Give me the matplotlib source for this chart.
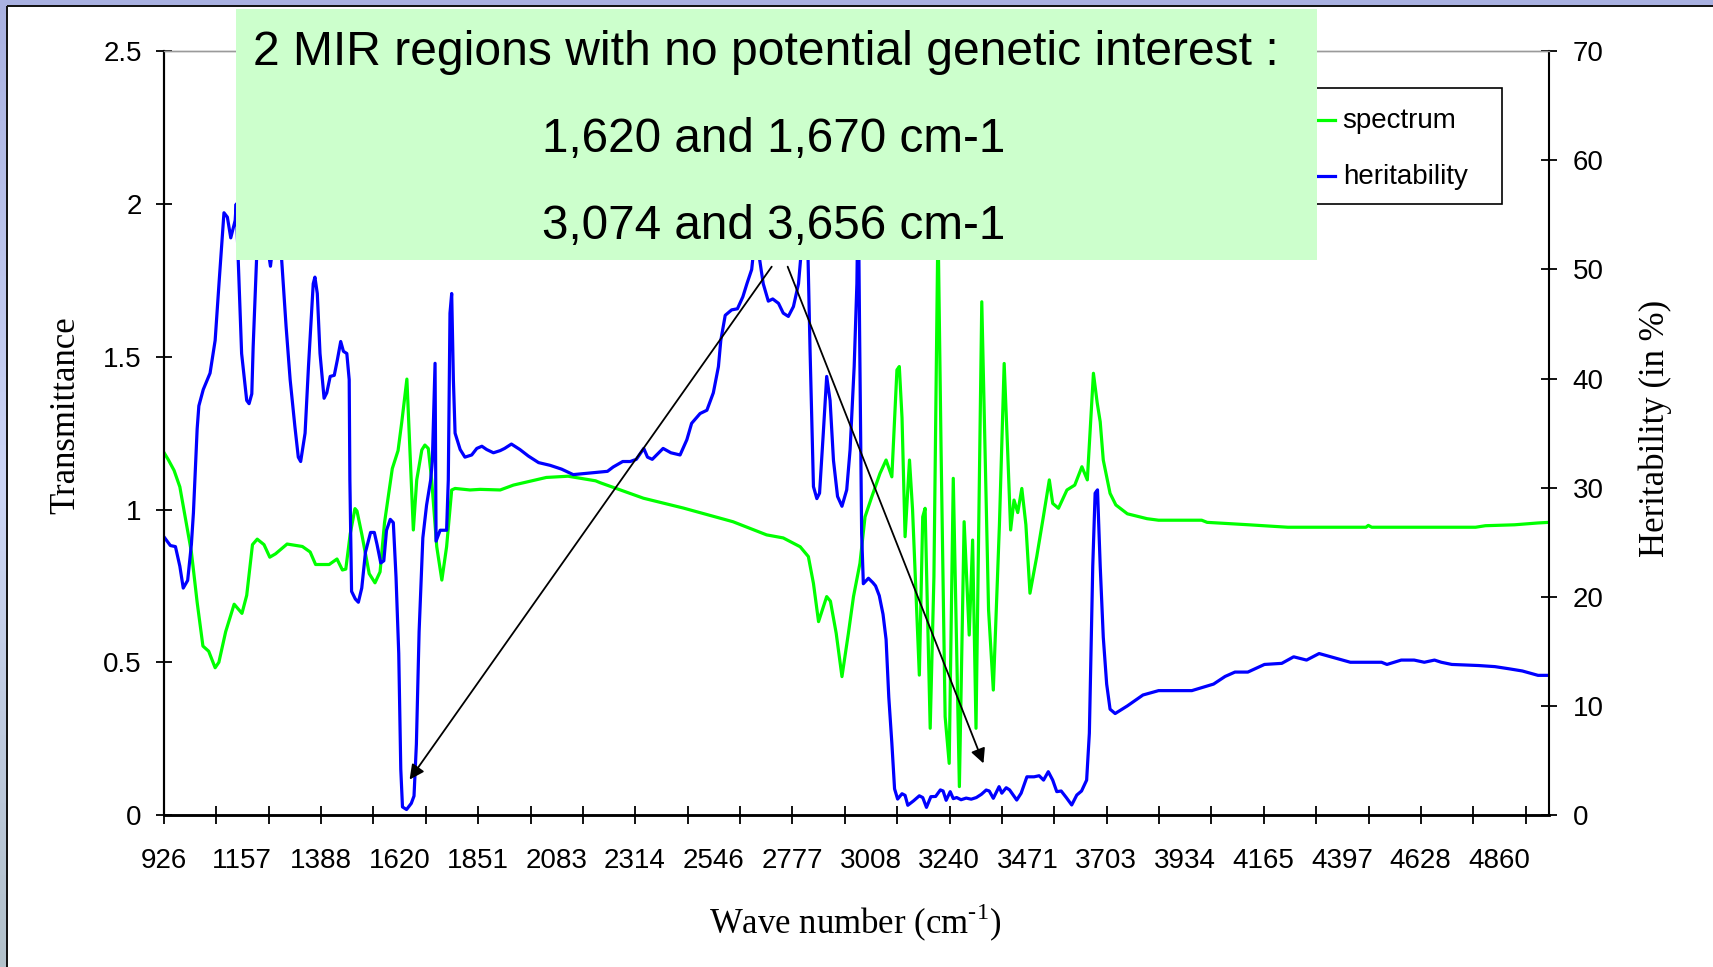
import numpy as np
import matplotlib
matplotlib.use("Agg")
import matplotlib.pyplot as plt
from matplotlib.patches import Rectangle
from matplotlib.lines import Line2D

# ---------------------------------------------------------------- data
spectrum_wn = [
    926, 939, 956, 973, 990, 1007, 1024, 1041, 1058, 1077, 1088, 1108, 1133, 1156,
    1170, 1187, 1201, 1221, 1238, 1255, 1289, 1334, 1357, 1373, 1413, 1436, 1452,
    1462, 1475, 1489, 1495, 1509, 1531, 1548, 1563, 1576, 1599, 1616, 1627, 1642,
    1661, 1671, 1686, 1695, 1705, 1715, 1730, 1745, 1759, 1774, 1784, 1828, 1858,
    1917, 1956, 2053, 2117, 2198, 2211, 2339, 2456, 2603, 2702, 2751, 2801, 2825,
    2840, 2855, 2879, 2890, 2907, 2924, 2943, 2958, 2977, 2992, 3012, 3036, 3054,
    3071, 3086, 3093, 3101, 3110, 3123, 3132, 3139, 3152, 3162, 3169, 3184, 3195,
    3207, 3216, 3228, 3240, 3252, 3270, 3284, 3299, 3309, 3319, 3336, 3356, 3370,
    3388, 3402, 3412, 3421, 3431, 3442, 3454, 3466, 3478, 3498, 3518, 3535, 3545,
    3562, 3587, 3610, 3631, 3647, 3665, 3676, 3685, 3694, 3714, 3731, 3765, 3823,
    3857, 3984, 4000, 4123, 4238, 4468, 4475, 4485, 4791, 4820, 4906, 4975, 5007,
]
transmittance = [
    1.187, 1.163, 1.128, 1.074, 0.968, 0.861, 0.696, 0.553, 0.536, 0.482, 0.500,
    0.600, 0.690, 0.660, 0.719, 0.885, 0.903, 0.885, 0.844, 0.855, 0.887, 0.879,
    0.861, 0.820, 0.820, 0.838, 0.802, 0.805, 0.920, 1.003, 0.995, 0.920, 0.790,
    0.760, 0.796, 0.956, 1.134, 1.193, 1.287, 1.427, 0.933, 1.097, 1.195, 1.211,
    1.200, 1.097, 0.878, 0.769, 0.878, 1.064, 1.069, 1.064, 1.066, 1.064, 1.080,
    1.105, 1.109, 1.094, 1.088, 1.037, 1.005, 0.960, 0.917, 0.907, 0.878, 0.846,
    0.758, 0.633, 0.715, 0.700, 0.595, 0.453, 0.595, 0.715, 0.824, 0.976, 1.042,
    1.118, 1.162, 1.107, 1.457, 1.468, 1.300, 0.911, 1.162, 1.000, 0.813, 0.458,
    0.976, 1.004, 0.284, 0.780, 1.950, 1.200, 0.322, 0.169, 1.102, 0.093, 0.960,
    0.589, 0.900, 0.284, 1.680, 0.671, 0.409, 0.950, 1.478, 1.200, 0.933, 1.031,
    0.990, 1.069, 0.950, 0.726, 0.846, 0.980, 1.097, 1.020, 1.004, 1.064, 1.080,
    1.140, 1.097, 1.446, 1.350, 1.287, 1.162, 1.053, 1.015, 0.986, 0.970, 0.965,
    0.965, 0.958, 0.950, 0.942, 0.942, 0.948, 0.942, 0.942, 0.947, 0.950, 0.956,
    0.958,
]

herit_wn = [
    926, 945, 960, 973, 983, 996, 1007, 1013, 1024, 1029, 1042, 1062, 1077, 1089,
    1103, 1113, 1123, 1136, 1139, 1145, 1155, 1170, 1177, 1185, 1189, 1199, 1215,
    1232, 1240, 1250, 1262, 1273, 1286, 1298, 1312, 1322, 1329, 1342, 1352, 1366,
    1371, 1378, 1386, 1398, 1406, 1416, 1428, 1437, 1447, 1455, 1465, 1472, 1474,
    1479, 1490, 1499, 1509, 1520, 1535, 1546, 1554, 1565, 1574, 1582, 1593, 1602,
    1610, 1618, 1624, 1629, 1641, 1655, 1663, 1670, 1678, 1689, 1700, 1712, 1717,
    1725, 1728, 1740, 1759, 1764, 1769, 1774, 1779, 1784, 1799, 1813, 1833, 1848,
    1863, 1877, 1897, 1917, 1930, 1950, 1975, 2000, 2030, 2064, 2098, 2132, 2165,
    2199, 2233, 2250, 2278, 2300, 2318, 2340, 2351, 2365, 2397, 2420, 2447, 2467,
    2481, 2506, 2526, 2545, 2560, 2567, 2580, 2599, 2616, 2632, 2644, 2658, 2668,
    2675, 2681, 2692, 2707, 2720, 2737, 2751, 2766, 2781, 2796, 2805, 2812, 2822,
    2830, 2840, 2850, 2858, 2869, 2879, 2889, 2899, 2911, 2924, 2938, 2948, 2960,
    2968, 2972, 2976, 2982, 2987, 3002, 3015, 3023, 3034, 3045, 3054, 3062, 3071,
    3079, 3088, 3101, 3110, 3118, 3135, 3152, 3162, 3173, 3186, 3200, 3214, 3222,
    3231, 3243, 3252, 3262, 3275, 3290, 3305, 3320, 3335, 3349, 3358, 3370, 3387,
    3395, 3408, 3418, 3439, 3452, 3469, 3490, 3505, 3518, 3532, 3545, 3557, 3570,
    3585, 3601, 3616, 3630, 3645, 3653, 3663, 3670, 3677, 3685, 3694, 3704, 3714,
    3729, 3765, 3811, 3857, 3955, 4019, 4053, 4082, 4120, 4169, 4220, 4255, 4293,
    4330, 4376, 4422, 4514, 4530, 4572, 4610, 4640, 4670, 4690, 4721, 4800, 4848,
    4890, 4929, 4975, 5007,
]
heritability = [
    25.5, 24.7, 24.6, 22.8, 20.8, 21.5, 24.8, 27.7, 35.4, 37.5, 39.0, 40.5, 43.5,
    49.0, 55.2, 54.8, 52.9, 54.5, 56.0, 50.9, 42.3, 38.0, 37.7, 38.6, 42.9, 50.9,
    62.0, 52.0, 50.3, 53.0, 58.0, 50.9, 44.8, 39.9, 35.6, 32.8, 32.4, 35.0, 41.1,
    48.7, 49.3, 47.8, 42.3, 38.2, 38.7, 40.2, 40.3, 41.7, 43.4, 42.5, 42.3, 39.9,
    30.7, 20.5, 19.8, 19.5, 20.8, 24.1, 25.9, 25.9, 24.8, 23.1, 23.3, 26.1, 27.1,
    26.8, 21.8, 14.8, 4.2, 0.74, 0.5, 1.07, 1.74, 6.5, 16.8, 25.4, 28.4, 30.7,
    32.4, 41.4, 25.1, 26.1, 26.1, 30.7, 46.0, 47.8, 39.9, 35.0, 33.5, 32.8, 33.0,
    33.6, 33.8, 33.5, 33.2, 33.4, 33.6, 34.0, 33.5, 32.9, 32.3, 32.05, 31.7, 31.2,
    31.3, 31.4, 31.5, 31.9, 32.4, 32.4, 32.6, 33.6, 32.8, 32.6, 33.6, 33.2, 33.0,
    34.4, 35.9, 36.8, 37.1, 38.7, 41.1, 43.5, 45.8, 46.3, 46.4, 47.5, 48.7, 50.0,
    53.0, 53.0, 51.0, 48.7, 47.1, 47.3, 46.9, 46.0, 45.7, 46.6, 48.7, 52.0, 56.0,
    54.0, 42.6, 30.1, 29.0, 29.5, 35.0, 40.2, 38.0, 32.5, 29.2, 28.3, 29.8, 33.5,
    41.1, 48.7, 58.0, 44.2, 25.8, 21.2, 21.7, 21.3, 21.0, 20.1, 18.4, 16.1, 10.8,
    6.6, 2.4, 1.46, 1.95, 1.8, 0.89, 1.3, 1.76, 1.6, 0.7, 1.68, 1.7, 2.3, 2.2,
    1.35, 2.14, 1.5, 1.6, 1.4, 1.55, 1.45, 1.6, 1.9, 2.29, 2.2, 1.53, 2.6, 2.0,
    2.5, 2.3, 1.37, 2.0, 3.5, 3.5, 3.6, 3.2, 3.97, 3.2, 2.14, 2.2, 1.6, 0.92,
    1.83, 2.2, 3.2, 7.5, 22.8, 29.5, 29.8, 22.8, 16.3, 12.0, 9.7, 9.3, 10.0, 11.0,
    11.4, 11.4, 12.0, 12.7, 13.1, 13.1, 13.8, 13.9, 14.5, 14.2, 14.8, 14.4, 14.0,
    14.0, 13.8, 14.2, 14.2, 14.0, 14.2, 14.0, 13.8, 13.7, 13.6, 13.4, 13.2, 12.8,
    12.8,
]

x_tick_labels = ["926", "1157", "1388", "1620", "1851", "2083", "2314", "2546",
                 "2777", "3008", "3240", "3471", "3703", "3934", "4165", "4397",
                 "4628", "4860"]
left_ticks = [0, 0.5, 1, 1.5, 2, 2.5]
left_tick_labels = ["0", "0.5", "1", "1.5", "2", "2.5"]
right_ticks = [0, 10, 20, 30, 40, 50, 60, 70]

note_lines = ["2 MIR regions with no potential genetic interest :",
              "1,620 and 1,670 cm-1",
              "3,074 and 3,656 cm-1"]
# arrows: (tail wavenumber, tail transmittance, head wavenumber, head transmittance)
arrows = [(2717, 1.795, 1650, 0.116),
          (2764, 1.795, 3341, 0.169)]

# ---------------------------------------------------------------- figure
W, H = 1713, 967
DPI = 100
fig = plt.figure(figsize=(W / DPI, H / DPI), dpi=DPI, facecolor="white")

def fx(px):
    return px / W

def fy(py):
    return 1 - py / H

SANS = "Liberation Sans"
SERIF = "Liberation Serif"
plt.rcParams["mathtext.fontset"] = "custom"
plt.rcParams["mathtext.rm"] = SERIF

# slide-style frame: lavender strips on top and left with a dark edge
bg = fig.add_axes([0, 0, 1, 1], zorder=-10)
bg.set_xlim(0, W)
bg.set_ylim(H, 0)
bg.axis("off")
top_col = np.array([169, 177, 225]) / 255
mid_col = np.array([205, 214, 246]) / 255
bot_col = np.array([178, 193, 202]) / 255
t = np.linspace(0, 1, 200)[:, None]
grad = np.where(t < 0.5,
                top_col + (mid_col - top_col) * (t / 0.5),
                mid_col + (bot_col - mid_col) * ((t - 0.5) / 0.5))
bg.imshow(grad[:, None, :], extent=(0, 6.5, H, 0), aspect="auto")
bg.add_patch(Rectangle((0, 0), W, 5.5, color=top_col, lw=0))
bg.plot([7, 7], [6, H], color="#101010", lw=1.4, solid_capstyle="butt")
bg.plot([7, W], [6, 6], color="#101010", lw=1.4, solid_capstyle="butt")

# main axes
x0, x1 = 163.9, 1549.2
y0, y1 = 51.3, 815.0
ax = fig.add_axes([fx(x0), fy(y1), fx(x1) - fx(x0), (y1 - y0) / H])
ax2 = ax.twinx()

ax.plot(spectrum_wn, transmittance, color="#00FF00", lw=2.3, solid_joinstyle="round")
ax2.plot(herit_wn, heritability, color="#0000FF", lw=2.3, solid_joinstyle="round")

ax.set_xlim(926, 5008)
ax.set_ylim(0, 2.5)
ax2.set_ylim(0, 70)

# x axis: tick marks every 154.33 cm-1, labels between them
ax.xaxis.remove_overlapping_locs = False
mark_pos = 926 + 154.33 * np.arange(27)
ax.set_xticks(mark_pos)
ax.set_xticklabels([])
ax.set_xticks([float(v) for v in x_tick_labels], minor=True)
ax.set_xticklabels(x_tick_labels, minor=True, fontfamily=SANS, fontsize=20)
ax.tick_params(axis="x", which="major", direction="inout", length=13, width=1.3,
               color="black")
ax.tick_params(axis="x", which="minor", length=0, pad=24)

ax.set_yticks(left_ticks)
ax.set_yticklabels(left_tick_labels, fontfamily=SANS, fontsize=20)
ax.tick_params(axis="y", direction="inout", length=12, width=1.3, pad=10)

ax2.set_yticks(right_ticks)
ax2.set_yticklabels([str(v) for v in right_ticks], fontfamily=SANS, fontsize=20)
ax2.tick_params(axis="y", direction="inout", length=12, width=1.3, pad=11)

for a in (ax, ax2):
    a.set_facecolor("none")
    a.spines["top"].set_color("#9a9a9a")
    a.spines["top"].set_linewidth(1.0)
    a.spines["left"].set_linewidth(1.5)
    a.spines["right"].set_linewidth(1.5)
    a.spines["bottom"].set_linewidth(1.8)
ax.spines["right"].set_visible(False)

ax.set_xlabel("Wave number (cm$^{\\mathregular{\u20101}}$)", fontfamily=SERIF,
              fontsize=25)
ax.xaxis.set_label_coords((855 - x0) / (x1 - x0), (y1 - 923) / (y1 - y0))
ax.xaxis.label.set_va("center")
ax.set_ylabel("Transmittance", fontfamily=SERIF, fontsize=25)
ax.yaxis.set_label_coords((65.5 - x0) / (x1 - x0), (y1 - 415) / (y1 - y0))
ax.yaxis.label.set_va("center")
ax2.set_ylabel("Heritability (in %)", fontfamily=SERIF, fontsize=25, rotation=90)
ax2.yaxis.set_label_coords((1655 - x0) / (x1 - x0), (y1 - 428) / (y1 - y0))
ax2.yaxis.label.set_va("center")

# arrows pointing at the two low-heritability regions
for (xt, yt, xh, yh) in arrows:
    ax2.annotate("", xy=(xh, yh), xytext=(xt, yt),
                 xycoords=ax.transData, textcoords=ax.transData,
                 arrowprops=dict(arrowstyle="-|>", color="black", lw=1.3,
                                 mutation_scale=22, shrinkA=0, shrinkB=0))

# legend box (partly covered by the note)
fig.patches.append(Rectangle((fx(1280), fy(204.3)), fx(1502.3) - fx(1280),
                             (204.3 - 88.3) / H, transform=fig.transFigure,
                             facecolor="white", edgecolor="black", lw=1.2,
                             zorder=4))
for yy, col, lab in [(119.5, "#00FF00", "spectrum"), (176, "#0000FF", "heritability")]:
    fig.lines.append(Line2D([fx(1300), fx(1335)], [fy(yy), fy(yy)],
                            transform=fig.transFigure, color=col, lw=2.3,
                            zorder=4.1))
    fig.text(fx(1342.7), fy(yy + 1), lab, fontfamily=SANS, fontsize=20,
             va="center", ha="left", zorder=4.2)

# note box
fig.patches.append(Rectangle((fx(236), fy(259.5)), fx(1316.5) - fx(236),
                             (259.5 - 9.3) / H, transform=fig.transFigure,
                             facecolor="#CCFFCC", edgecolor="none", zorder=5))
for (cx, base, size), line in zip([(766, 65, 34.6), (774, 152.2, 34.3),
                                   (774, 239.4, 34.3)], note_lines):
    fig.text(fx(cx), fy(base), line, fontfamily=SANS, fontsize=size,
             ha="center", va="baseline", zorder=6)

fig.savefig("out.png", dpi=DPI, facecolor="white")
